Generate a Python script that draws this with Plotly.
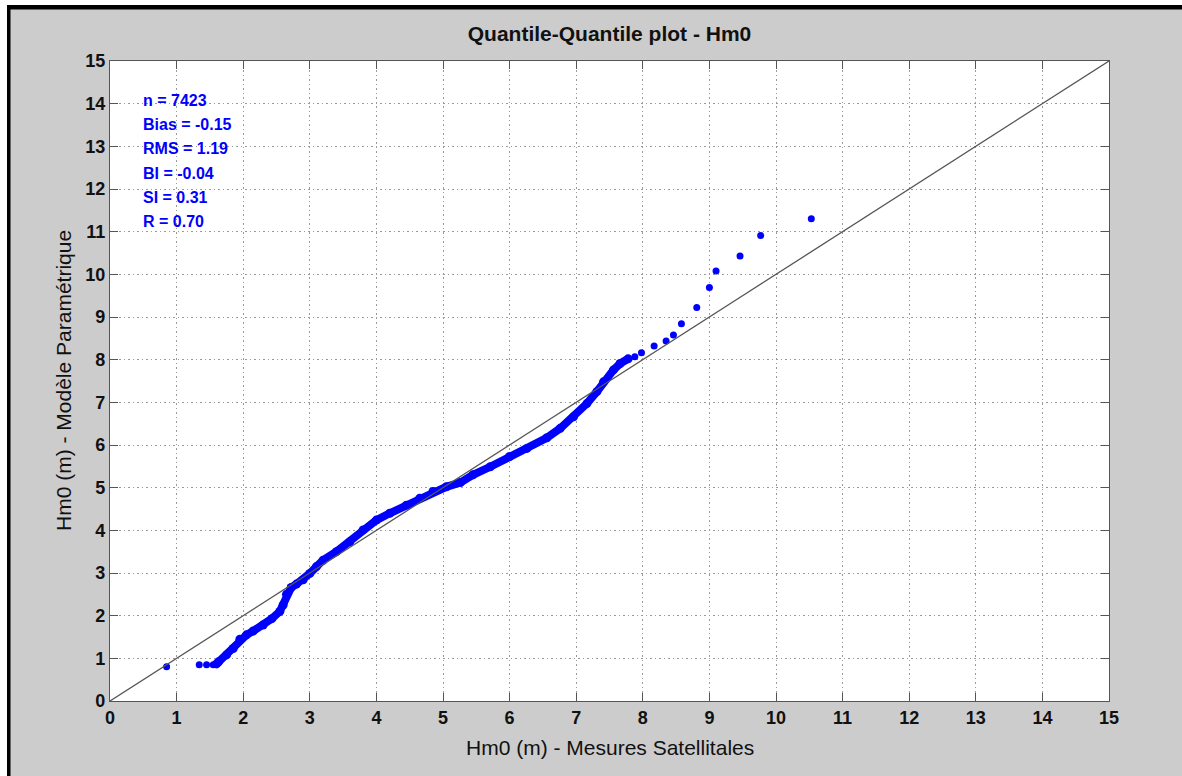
import plotly.graph_objects as go

# Quantiles of Hm0: satellite measurements (x) vs parametric model (y)
low_sat = [0.85, 1.34, 1.45, 1.55]
low_mod = [0.80, 0.85, 0.85, 0.85]

dense_sat = [1.60, 1.63, 1.75, 1.85, 1.95, 2.05, 2.15, 2.30, 2.43, 2.55, 2.60,
             2.65, 2.72, 2.80, 2.90, 3.00, 3.10, 3.20, 3.40, 3.60, 3.80, 4.00,
             4.20, 4.45, 4.65, 4.85, 5.05, 5.26, 5.45, 5.71, 6.00, 6.26, 6.56,
             6.76, 6.96, 7.16, 7.31, 7.41, 7.56, 7.66, 7.78]
dense_mod = [0.87, 0.92, 1.08, 1.23, 1.45, 1.55, 1.64, 1.78, 1.93, 2.10, 2.25,
             2.50, 2.66, 2.74, 2.84, 2.99, 3.15, 3.30, 3.50, 3.73, 4.01, 4.24,
             4.40, 4.59, 4.75, 4.91, 5.02, 5.12, 5.30, 5.49, 5.73, 5.92, 6.17,
             6.39, 6.66, 6.97, 7.25, 7.48, 7.76, 7.91, 8.02]

tail_sat = [7.88, 7.98, 8.17, 8.35, 8.46, 8.58, 8.81, 9.00, 9.10, 9.46, 9.77, 10.53]
tail_mod = [8.07, 8.16, 8.32, 8.44, 8.58, 8.84, 9.22, 9.69, 10.08, 10.43, 10.91, 11.30]

ref_line = [0, 15]
tick_vals = list(range(0, 16))

stats_lines = ["n = 7423", "Bias = -0.15", "RMS = 1.19",
               "BI = -0.04", "SI = 0.31", "R = 0.70"]

BLUE = "#0000FF"
FONT = "Liberation Sans, Arial, Helvetica, sans-serif"

fig = go.Figure()

# thick band of densely packed quantiles
fig.add_trace(go.Scatter(x=dense_sat, y=dense_mod, mode="lines+markers",
                         line=dict(color=BLUE, width=8),
                         marker=dict(color=BLUE, size=9),
                         hoverinfo="skip", showlegend=False))
# isolated quantiles at both ends
fig.add_trace(go.Scatter(x=low_sat + tail_sat, y=low_mod + tail_mod, mode="markers",
                         marker=dict(color=BLUE, size=7),
                         showlegend=False))
# 1:1 reference line
fig.add_trace(go.Scatter(x=ref_line, y=ref_line, mode="lines",
                         line=dict(color="#555555", width=1.3),
                         hoverinfo="skip", showlegend=False))

axis_common = dict(
    range=[0, 15], tickvals=tick_vals, ticktext=[str(v) for v in tick_vals],
    showgrid=True, gridcolor="#9a9a9a", gridwidth=1, griddash="1.5px,3px",
    zeroline=False, showline=True, linecolor="#555555", linewidth=1.2,
    mirror="ticks", ticks="inside", ticklen=8, tickwidth=1.3, tickcolor="#555555",
    tickfont=dict(family=FONT, size=18, color="#111111", weight="bold"),
    fixedrange=True,
)

fig.update_layout(
    width=1182, height=776,
    margin=dict(l=110, r=73, t=61, b=75),
    paper_bgcolor="#cccccc", plot_bgcolor="#ffffff",
    xaxis=dict(**axis_common),
    yaxis=dict(**axis_common),
    title=dict(text="<b>Quantile-Quantile plot - Hm0</b>", x=0.5, xref="paper",
               y=1 - 33.5 / 776, yanchor="middle", xanchor="center",
               font=dict(family=FONT, size=21, color="#111111")),
)

annotations = [
    dict(text="Hm0 (m) - Mesures Satellitales", xref="paper", yref="paper",
         x=0.5, y=0, xanchor="center", yanchor="middle", yshift=-46,
         showarrow=False, font=dict(family=FONT, size=21, color="#111111")),
    dict(text="Hm0 (m) - Modèle Paramétrique", xref="paper", yref="paper",
         x=0, y=0.5, xanchor="center", yanchor="middle", xshift=-47,
         textangle=-90, showarrow=False,
         font=dict(family=FONT, size=21, color="#111111")),
]
for i, line in enumerate(stats_lines):
    annotations.append(dict(text="<b>%s</b>" % line, xref="x", yref="y",
                            x=0.47, y=14.08 - i * 0.57, xanchor="left",
                            yanchor="middle", showarrow=False,
                            font=dict(family=FONT, size=16, color=BLUE)))
fig.update_layout(annotations=annotations)

# dark frame along the top and left edges of the canvas
px_x = lambda p: (p - 110) / 999
px_y = lambda p: (701 - p) / 640
fig.add_shape(type="rect", xref="paper", yref="paper",
              x0=px_x(0), x1=px_x(1182), y0=px_y(0), y1=px_y(5),
              fillcolor="white", line_width=0, layer="below")
fig.add_shape(type="rect", xref="paper", yref="paper",
              x0=px_x(0), x1=px_x(7), y0=px_y(0), y1=px_y(776),
              fillcolor="white", line_width=0, layer="below")
fig.add_shape(type="rect", xref="paper", yref="paper",
              x0=px_x(7), x1=px_x(1182), y0=px_y(5), y1=px_y(9.5),
              fillcolor="black", line_width=0, layer="below")
fig.add_shape(type="rect", xref="paper", yref="paper",
              x0=px_x(7), x1=px_x(10.5), y0=px_y(5), y1=px_y(776),
              fillcolor="black", line_width=0, layer="below")

fig.write_html("out.html")
